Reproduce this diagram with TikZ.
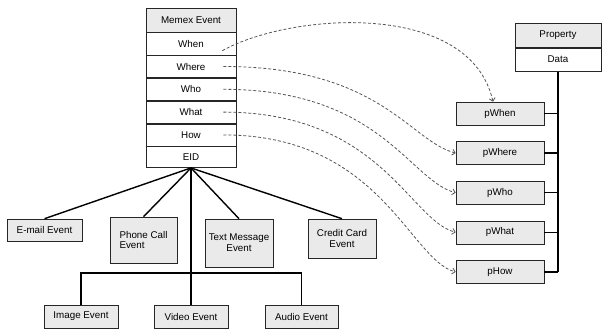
\documentclass[tikz,border=0pt]{standalone}
\usepackage{fontspec}
\setmainfont{Liberation Sans}
\usetikzlibrary{arrows.meta,positioning}
\definecolor{boxgray}{RGB}{234,234,234}
\definecolor{dashgray}{RGB}{85,85,85}
\tikzset{
  evbox/.style={draw=black!85, fill=boxgray, line width=0.6pt, inner sep=1pt,
    font=\fontsize{9.8}{10.8}\selectfont, minimum height=23pt, align=center},
  rowbox/.style={evbox, fill=white, minimum width=90pt, minimum height=22.2pt},
  hdbox/.style={evbox, minimum width=90pt, minimum height=24pt},
  pbox/.style={evbox, minimum width=88pt},
  tline/.style={line width=1.4pt},
  darr/.style={dash pattern=on 3pt off 2pt, dashgray, line width=0.8pt, -{Straight Barb[length=3pt,width=6pt]}},
}

\begin{document}
\begin{tikzpicture}[x=1pt, y=-1pt]
\useasboundingbox (0,0) rectangle (602,333);

% memex event table
\node[hdbox] (memex) at (191,20) {Memex Event};
\node[rowbox, below=0pt of memex] (when) {When};
\node[rowbox, below=0pt of when] (where) {Where};
\node[rowbox, below=0pt of where] (who) {Who};
\node[rowbox, below=0pt of who] (what) {What};
\node[rowbox, below=0pt of what] (how) {How};
\node[rowbox, below=0pt of how, minimum height=21pt] (eid) {EID};

% property table
\node[evbox, minimum width=86pt, minimum height=23.5pt] (prop) at (558,35.5) {Property};
\node[evbox, fill=white, minimum width=86pt, minimum height=23.5pt, below=0pt of prop] (data) {Data};

\node[pbox] (pwhen) at (500,113.5) {pWhen};
\node[pbox, below=16pt of pwhen] (pwhere) {pWhere};
\node[pbox, below=16pt of pwhere] (pwho) {pWho};
\node[pbox, below=16pt of pwho] (pwhat) {pWhat};
\node[pbox, below=16pt of pwhat] (phow) {pHow};

\draw[tline] (data.south) -- (data.south |- phow.east);
\foreach \p in {pwhen,pwhere,pwho,pwhat,phow}
  \draw[tline] (\p.east) -- (\p.east -| data.south);

% subtypes
\node[evbox, minimum width=75pt, minimum height=22pt] (email) at (44.5,230) {E-mail Event};
\node[evbox, minimum width=67pt, minimum height=46pt, align=left] (phone) at (143.5,240) {Phone Call\\Event};
\node[evbox, minimum width=68pt, minimum height=48pt] (text) at (239,243) {Text Message\\Event};
\node[evbox, minimum width=68pt, minimum height=39pt] (credit) at (342,238.5) {Credit Card\\Event};

\node[evbox, minimum width=74pt] (image) at (81,316.5) {Image Event};
\node[evbox, minimum width=74pt] (video) at (191,316.5) {Video Event};
\node[evbox, minimum width=73pt] (audio) at (301.5,316.5) {Audio Event};
\coordinate (hub) at (191,273);

\foreach \b in {email,phone,text,credit}
  \draw[tline] (eid.south) -- (\b.north);
\draw[tline] (eid.south) -- (video.north);
\draw[tline] (image.north) -- (image.north |- hub) -- (audio.north |- hub) -- (audio.north);

% links to properties
\draw[darr] ([xshift=-14pt,yshift=-7pt]when.east) .. controls +(68,-38) and +(-23,-102) .. ([xshift=-7pt]pwhen.north);
\foreach \r/\p in {where/pwhere,who/pwho,what/pwhat,how/phow}
  \draw[darr] ([xshift=-13pt]\r.east) .. controls +(157,0) and +(-46,-12) .. (\p.west);
\end{tikzpicture}
\end{document}
